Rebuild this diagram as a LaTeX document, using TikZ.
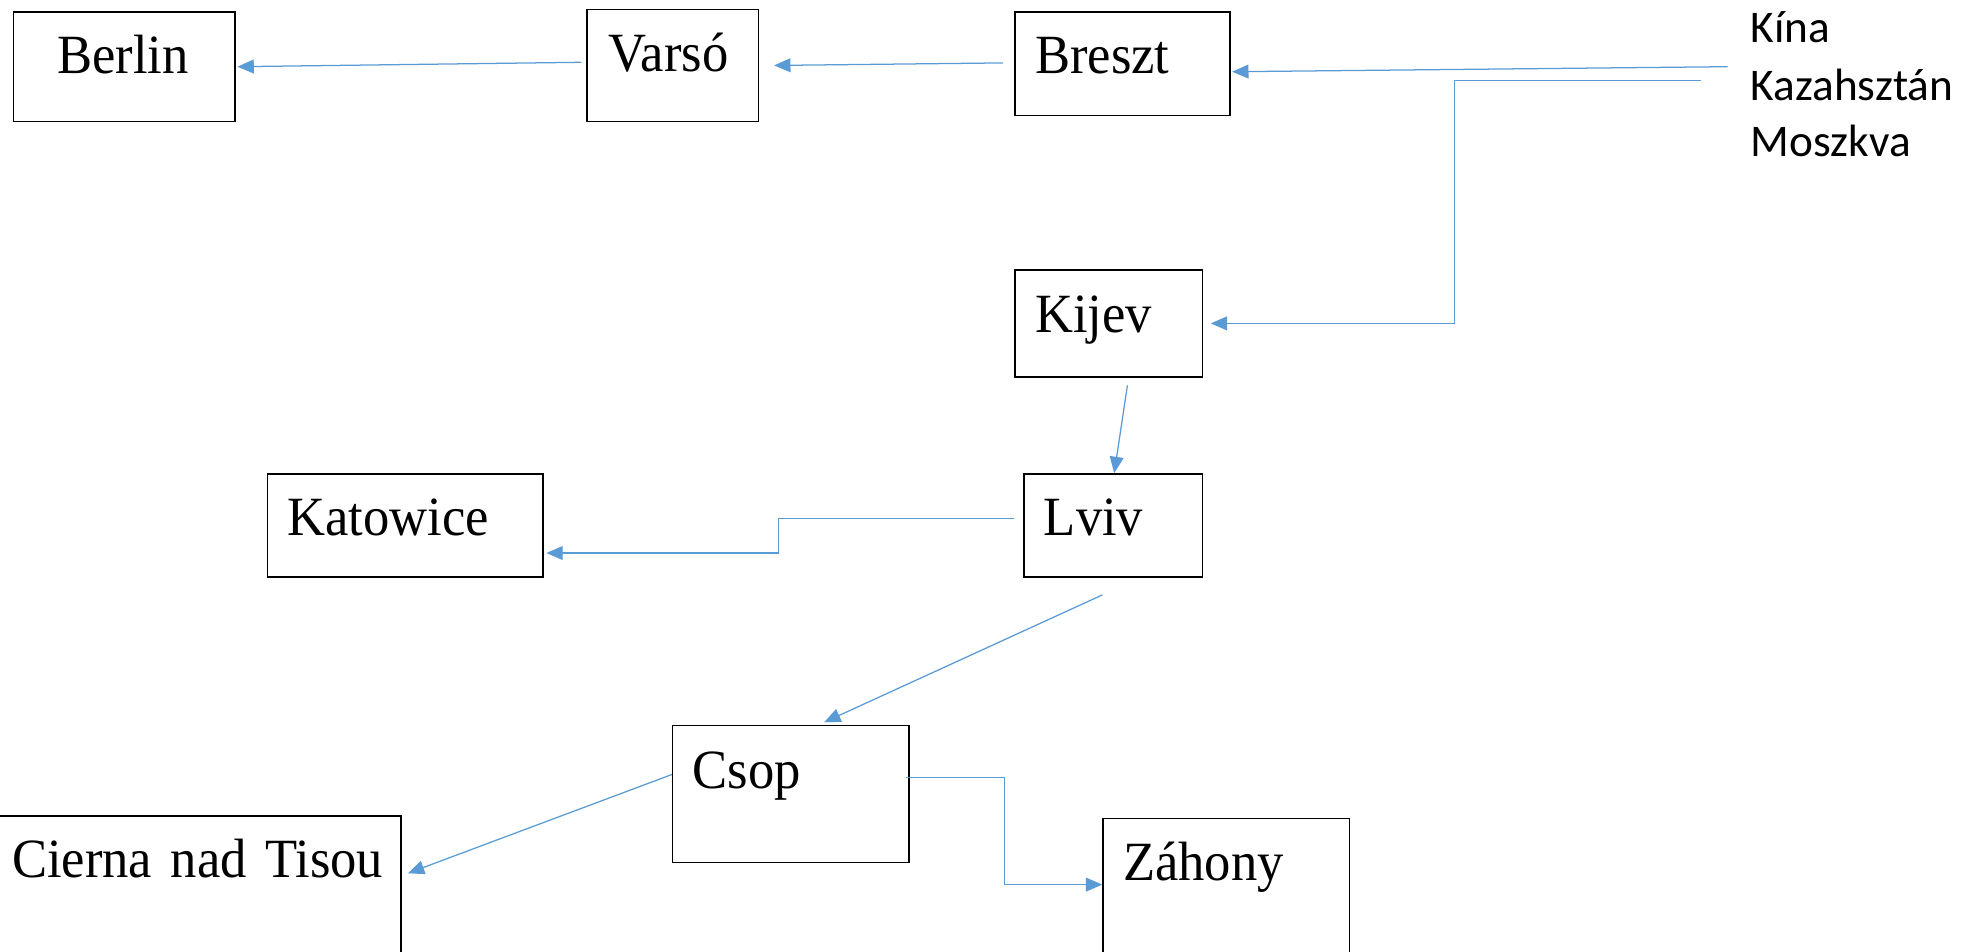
\documentclass[tikz,border=0pt]{standalone}
\usepackage{fontspec}
\newfontfamily\cityfont[FakeStretch=0.95]{Liberation Serif}
\newfontfamily\originfont{Carlito}
\usetikzlibrary{arrows.meta}
\definecolor{flowblue}{HTML}{5B9BD5}
\tikzstyle{city}=[draw=black,line width=0.6pt,anchor=north west,inner ysep=0pt,inner xsep=8pt,align=left,font=\cityfont\fontsize{22}{26}\selectfont]
\tikzstyle{origin}=[anchor=base west,inner sep=0pt,font=\originfont\fontsize{18}{22}\selectfont]
\tikzstyle{flow}=[draw=flowblue,line width=0.5pt,-{Triangle[length=6.5pt,width=5.5pt]}]

\begin{document}
\begin{tikzpicture}[x=0.5pt,y=-0.5pt]
  \path[use as bounding box,clip] (0,0) rectangle (1568,756);

  \node[city,inner xsep=17.5pt,text width=53pt,text height=24.5pt,text depth=19pt] (berlin) at (10,9) {Berlin};
  \node[city,inner xsep=8.5pt,text width=51pt,text height=24.5pt,text depth=20pt] (varso) at (466,7) {Varsó};
  \node[city,text width=69.5pt,text height=24.5pt,text depth=16.5pt] (breszt) at (806,9) {Breszt};
  \node[city,text width=58.5pt,text height=25pt,text depth=17.5pt] (kijev) at (806,214) {Kijev};
  \node[city,text width=55pt,text height=24.5pt,text depth=16.5pt] (lviv) at (813,376) {Lviv};
  \node[city,text width=93.5pt,text height=24.5pt,text depth=16.5pt] (katowice) at (212,376) {Katowice};
  \node[city,text width=78pt,text height=25pt,text depth=29.5pt] (csop) at (534,576) {Csop};
  \node[city,inner xsep=8.5pt,text width=146pt,text height=24.5pt,text depth=51.5pt] (cierna) at (-8,648) {\mbox{Cierna nad Tisou}};
  \node[city,text width=82pt,text height=24.5pt,text depth=50.5pt] (zahony) at (876,650) {Záhony};

  \node[origin] (kina) at (1391,34) {Kína};
  \node[origin] (kazah) at (1391,79.5) {Kazahsztán};
  \node[origin] (moszkva) at (1391,124.5) {Moszkva};

  \draw[flow] ([shift={(-18,19)}]kina.base west) -- ([shift={(1,48)}]breszt.north east);
  \draw[flow] ([shift={(-39,-15.5)}]kazah.base west) -- ++(-196,0) |- ([shift={(6,43)}]kijev.north east);
  \draw[flow] ([shift={(-9,41)}]breszt.north west) -- ([shift={(12,45)}]varso.north east);
  \draw[flow] ([shift={(-4,42.5)}]varso.north west) -- ([shift={(1.5,44)}]berlin.north east);
  \draw[flow] ([shift={(90,6)}]kijev.south west) -- ([shift={(72.5,0)}]lviv.north west);
  \draw[flow] ([shift={(-7,36)}]lviv.north west) -- ++(-187.5,0) |- ([shift={(2,63.5)}]katowice.north east);
  \draw[flow] ([shift={(63,13.6)}]lviv.south west) -- ([shift={(121,-2)}]csop.north west);
  \draw[flow] ([shift={(0,39.5)}]csop.north west) -- ([shift={(5,46)}]cierna.north east);
  \draw[flow] ([shift={(-3,42)}]csop.north east) -- ++(78,0) |- ([shift={(0,53)}]zahony.north west);
\end{tikzpicture}
\end{document}
